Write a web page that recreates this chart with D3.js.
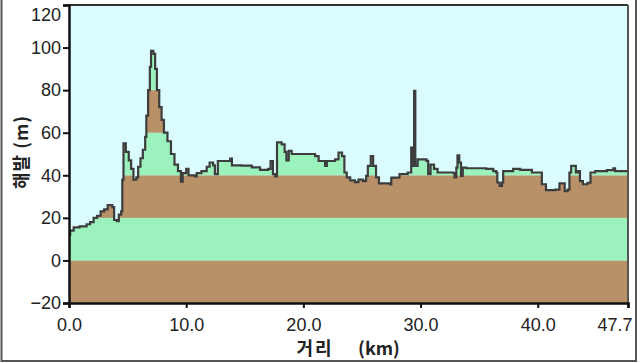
<!DOCTYPE html>
<html>
<head>
<meta charset="utf-8">
<script src="https://cdn.jsdelivr.net/npm/d3@7"></script>
<style>
  body { margin: 0; background: #fff; }
  svg text { font-family: "Liberation Sans", Arial, sans-serif; fill: #222; }
  .title { font-family: "Noto Sans CJK KR", sans-serif; font-weight: bold; }
</style>
</head>
<body>
<script>
// profile data
var distanceKm = [0.0, 0.1, 0.4, 0.9, 1.5, 1.8, 2.1, 2.4, 2.7, 3.0, 3.3, 3.7, 3.85, 4.1, 4.25, 4.45, 4.55, 4.65, 4.85, 5.1,
  5.3, 5.5, 5.75, 5.9, 6.1, 6.3, 6.5, 6.6, 6.75, 6.9, 7.0, 7.2, 7.35, 7.5, 7.7, 7.9, 8.1, 8.4, 8.7, 9.0,
  9.3, 9.55, 9.7, 10.0, 10.2, 10.75, 10.9, 11.3, 11.75, 12.0, 12.3, 12.45, 12.7, 13.75, 13.9, 14.7, 15.6, 16.3, 17.0, 17.2,
  17.4, 17.6, 17.75, 18.15, 18.4, 18.55, 18.75, 19.0, 20.3, 21.0, 21.3, 21.85, 22.0, 22.7, 23.0, 23.3, 23.5, 23.7, 24.0, 24.4,
  24.7, 25.1, 25.35, 25.5, 25.75, 25.95, 26.2, 26.45, 27.4, 27.5, 28.2, 28.9, 29.2, 29.35, 29.45, 29.55, 29.75, 30.5, 30.65, 30.85,
  31.15, 31.45, 32.8, 32.9, 33.05, 33.15, 33.3, 33.45, 33.6, 33.9, 35.6, 36.2, 36.45, 36.55, 36.75, 36.95, 37.05, 37.9, 38.5, 39.5,
  40.35, 40.7, 41.5, 41.85, 42.3, 42.55, 42.7, 42.85, 43.25, 43.45, 43.6, 43.85, 44.25, 44.5, 44.9, 45.9, 46.45, 46.6, 47.7];
var elevationM = [12, 14, 15.5, 16, 17, 18, 20, 21, 23, 24, 26, 25, 19, 18.5, 21.5, 23, 38, 55, 51, 47,
  43, 38, 39, 44, 48, 52, 58, 68, 80, 91, 98.5, 97, 90, 80, 72, 66, 60, 56, 50, 45,
  42, 37, 41, 43, 40, 39.5, 41, 42, 44, 46, 44.7, 40.5, 46.7, 47.8, 44.7, 44.5, 43.7, 42.5, 43, 46.7,
  40.5, 39.5, 55.5, 54.5, 51, 47, 51.5, 50, 50, 49, 46.7, 44.4, 46.7, 47.5, 50.7, 49, 41.3, 39, 37.6, 36.8,
  38, 37.3, 39.7, 44.4, 49, 44.4, 39, 36.2, 35.7, 38.9, 40.5, 41.3, 53, 44.4, 79.7, 44.4, 47.5, 46.8, 40.5, 45,
  43, 41.3, 41, 39, 43.6, 49.4, 46, 39.7, 43.6, 43.3, 43, 42, 41.3, 36.6, 35, 36.6, 42, 43, 42.5, 41.3,
  35.8, 33, 33.3, 36.2, 32.6, 33.3, 41.3, 44.4, 41.3, 42, 37.3, 35.8, 36.5, 41.3, 42, 42.4, 43.2, 42, 42];

var xTicks = [0, 10, 20, 30, 40, 47.7];
var yTicks = [-20, 0, 20, 40, 60, 80, 100, 120];
var bandEdges = [-20, 0, 20, 40, 60, 80, 100, 120];
var bandColors = ['#b99169', '#9cf2bd', '#b99169', '#9cf2bd', '#b99169', '#9cf2bd', '#b99169'];

var W = 640, H = 363;
var plotLeft = 69, plotRight = 628, plotTop = 5, plotBottom = 303;

var svg = d3.select('body').append('svg')
  .attr('width', W).attr('height', H);

var x = d3.scaleLinear().domain([0, 47.7]).range([plotLeft, plotRight]);
var y = d3.scaleLinear().domain([-20, 120]).range([plotBottom, plotTop]);

var pts = distanceKm.map(function(d, i) { return [d, elevationM[i]]; });

// sky
svg.append('rect')
  .attr('x', plotLeft).attr('y', plotTop)
  .attr('width', plotRight - plotLeft).attr('height', plotBottom - plotTop)
  .attr('fill', '#dafcff');

var area = d3.area()
  .x(function(d) { return x(d[0]); })
  .y0(y(-20))
  .y1(function(d) { return y(d[1]); })
  .curve(d3.curveStepAfter);

svg.append('clipPath').attr('id', 'ground')
  .append('path').attr('d', area(pts));

// elevation bands, only below the profile
svg.append('g').attr('clip-path', 'url(#ground)')
  .selectAll('rect')
  .data(bandColors)
  .enter().append('rect')
  .attr('x', plotLeft)
  .attr('width', plotRight - plotLeft)
  .attr('y', function(d, i) { return y(bandEdges[i + 1]); })
  .attr('height', function(d, i) { return y(bandEdges[i]) - y(bandEdges[i + 1]); })
  .attr('fill', function(d) { return d; });

var line = d3.line()
  .x(function(d) { return x(d[0]); })
  .y(function(d) { return y(d[1]); })
  .curve(d3.curveStepAfter);

svg.append('path')
  .attr('d', line(pts))
  .attr('fill', 'none')
  .attr('stroke', '#3d3d3d')
  .attr('stroke-width', 2.2);

// plot border
svg.append('line').attr('x1', plotLeft).attr('x2', plotRight).attr('y1', plotTop).attr('y2', plotTop)
  .attr('stroke', '#333').attr('stroke-width', 2);
svg.append('line').attr('x1', plotRight).attr('x2', plotRight).attr('y1', plotTop).attr('y2', plotBottom)
  .attr('stroke', '#555').attr('stroke-width', 2);

// axes
var yAxis = d3.axisLeft(y).tickValues(yTicks).tickSize(6).tickPadding(2)
  .tickFormat(function(d) { return d < 0 ? '\u221220' : d; });
var gy = svg.append('g').attr('transform', 'translate(' + plotLeft + ',0)').call(yAxis);

var xAxis = d3.axisBottom(x).tickValues(xTicks).tickSize(5).tickPadding(10)
  .tickFormat(d3.format('.1f'));
var gx = svg.append('g').attr('transform', 'translate(0,' + plotBottom + ')').call(xAxis);

[gx, gy].forEach(function(g) {
  g.select('.domain').attr('stroke', '#111').attr('stroke-width', 2.5);
  g.selectAll('.tick line').attr('stroke', '#111').attr('stroke-width', 2);
  g.selectAll('.tick text').attr('font-size', 18).attr('font-family', '"Liberation Sans", Arial, sans-serif').attr('fill', '#222');
});
// keep edge labels inside the picture
gy.selectAll('.tick text').filter(function(d) { return d === 120; }).attr('dy', '0.85em');
gx.selectAll('.tick text').filter(function(d) { return d === 47.7; })
  .attr('text-anchor', 'end').attr('x', 4);

// titles
svg.append('text').attr('class', 'title')
  .attr('x', 315).attr('y', 355).attr('text-anchor', 'middle')
  .attr('font-size', 18).attr('letter-spacing', 2)
  .text('거리');
svg.append('text').attr('class', 'title')
  .attr('x', 379).attr('y', 355).attr('text-anchor', 'middle').attr('font-size', 18)
  .text('(km)');

svg.append('text').attr('class', 'title')
  .attr('transform', 'translate(28,152) rotate(-90)')
  .attr('text-anchor', 'middle')
  .attr('font-size', 18)
  .attr('letter-spacing', 1)
  .text('해발 (m)');

// outer frame
svg.append('rect')
  .attr('x', 1.5).attr('y', -2)
  .attr('width', 634.5).attr('height', 363)
  .attr('fill', 'none').attr('stroke', '#555').attr('stroke-width', 2);
</script>
</body>
</html>
